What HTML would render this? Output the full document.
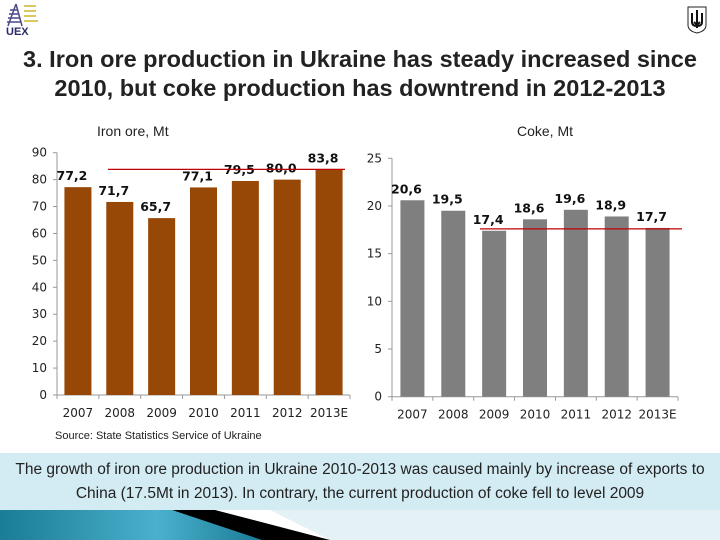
<!DOCTYPE html>
<html><head><meta charset="utf-8"><style>
body{margin:0;width:720px;height:540px;background:#fff;overflow:hidden;position:relative;font-family:"Liberation Sans",sans-serif}
.t{position:absolute;left:0;width:720px;text-align:center;font-size:23.5px;font-weight:bold;color:#222;line-height:29px;top:45px}
</style></head><body>
<div style="position:absolute;left:4px;top:2px;width:40px;height:34px">
<svg width="40" height="34"><path d="M12 2 L4 24 M12 2 L18 24 M6 8h8 M5 12h10 M4 16h12 M3 20h14" stroke="#4a4a8a" stroke-width="1.5" fill="none"/><rect x="20" y="3" width="12" height="2" fill="#d8c860"/><rect x="20" y="8" width="12" height="2" fill="#d8c860"/><rect x="20" y="13" width="12" height="2" fill="#d8c860"/><rect x="20" y="18" width="14" height="2" fill="#d8c860"/><text x="2" y="33" font-family="Liberation Sans" font-weight="bold" font-size="11" fill="#2a2a6a">UEX</text></svg></div>
<div style="position:absolute;left:687px;top:6px;width:20px;height:28px">
<svg width="20" height="28"><path d="M1 1h18v18q0 6-9 8q-9-2-9-8z" fill="#fff" stroke="#222"/><path d="M10 4v18M5 7v9q0 4 5 4q5 0 5-4v-9M7 16l3 3 3-3" stroke="#111" stroke-width="2" fill="none"/></svg></div>
<div class="t">3. Iron ore production in Ukraine has steady increased since<br>2010, but coke production has downtrend in 2012-2013</div>
<div style="position:absolute;left:97px;top:123px;font-size:14px;color:#222">Iron ore, Mt</div>
<div style="position:absolute;left:517px;top:123px;font-size:14px;color:#222">Coke, Mt</div>
<svg id="ch" width="720" height="540" style="position:absolute;left:0;top:0"></svg>
<div style="position:absolute;left:55px;top:430px;font-size:11px;color:#222">Source: State Statistics Service of Ukraine</div>
<div style="position:absolute;left:0;top:453px;width:720px;height:57px;background:#d3ebf2;text-align:center;font-size:15.5px;line-height:24px;padding-top:5px;box-sizing:border-box;color:#222">The growth of iron ore production in Ukraine 2010-2013 was caused mainly by increase of exports to<br>China (17.5Mt in 2013). In contrary, the current production of coke fell to level 2009</div>
<svg width="720" height="30" style="position:absolute;left:0;top:510px">
<defs><linearGradient id="g" x1="0" x2="1"><stop offset="0" stop-color="#1a7c96"/><stop offset="0.6" stop-color="#4ab0cc"/><stop offset="1" stop-color="#1a7c96"/></linearGradient></defs>
<polygon points="270,0 720,0 720,30 330,30" fill="#e4f1f5"/>
<polygon points="172,0 215,0 330,30 255,30" fill="#000"/>
<polygon points="0,0 172,0 262,30 0,30" fill="url(#g)"/>
</svg>
<script>
const years=["2007","2008","2009","2010","2011","2012","2013E"];
const ironValues=[77.2,71.7,65.7,77.1,79.5,80.0,83.8];
const cokeValues=[20.6,19.5,17.4,18.6,19.6,18.9,17.7];
const ironTicks=[0,10,20,30,40,50,60,70,80,90];
const cokeTicks=[0,5,10,15,20,25];
const ironRef=83.8, cokeRef=17.6;
const NS="http://www.w3.org/2000/svg",svg=document.getElementById('ch');
function mk(t,a,txt){const e=document.createElementNS(NS,t);for(const k in a)e.setAttribute(k,a[k]);if(txt!=null)e.textContent=txt;svg.appendChild(e);return e;}
function chart(o){
 const y=v=>o.y0-(v/o.max)*(o.y0-o.yTop);
 const step=(o.x1-o.x0)/o.vals.length;
 const ax=mk('line',{x1:o.x0,y1:o.yTop,x2:o.x0,y2:o.y0,stroke:'#999'});
 
 const xa=mk('line',{x1:o.x0,y1:o.y0,x2:o.x1,y2:o.y0,stroke:'#999'});
 
 o.ticks.forEach(t=>{mk('line',{x1:o.x0-4,x2:o.x0,y1:y(t),y2:y(t),stroke:'#999'});
  const l=mk('text',{x:o.x0-10,y:y(t)+4,'text-anchor':'end','font-size':12,fill:'#222','font-family':'DejaVu Sans'},String(t));
  });
 for(let i=0;i<=o.vals.length;i++)mk('line',{x1:o.x0+i*step,x2:o.x0+i*step,y1:o.y0,y2:o.y0+4,stroke:'#999'});
 o.vals.forEach((v,i)=>{const cx=o.x0+step*(i+0.5);
  const r=mk('rect',{x:cx-o.bw/2,y:y(v),width:o.bw,height:o.y0-y(v),fill:o.color});
  
  const l=mk('text',{x:cx-6,y:y(v)-7,'text-anchor':'middle','font-size':12.5,'font-weight':'bold',fill:'#111','font-family':'DejaVu Sans'},v.toFixed(1).replace('.',','));
  
  const c=mk('text',{x:cx,y:o.y0+22,'text-anchor':'middle','font-size':12,fill:'#222','font-family':'DejaVu Sans'},years[i]);
  });
 const rl=mk('line',{x1:o.rx0,x2:o.rx1,y1:y(o.ref),y2:y(o.ref),stroke:'#c00000','stroke-width':1.3});
 
}
chart({name:'iron',vals:ironValues,ticks:ironTicks,max:90,x0:57,x1:350,y0:395,yTop:152.7,bw:27,color:'#974706',ref:ironRef,rx0:108,rx1:345});
chart({name:'coke',vals:cokeValues,ticks:cokeTicks,max:25,x0:392,x1:678,y0:396.7,yTop:158.3,bw:24,color:'#7f7f7f',ref:cokeRef,rx0:480,rx1:682});
</script>
</body></html>
